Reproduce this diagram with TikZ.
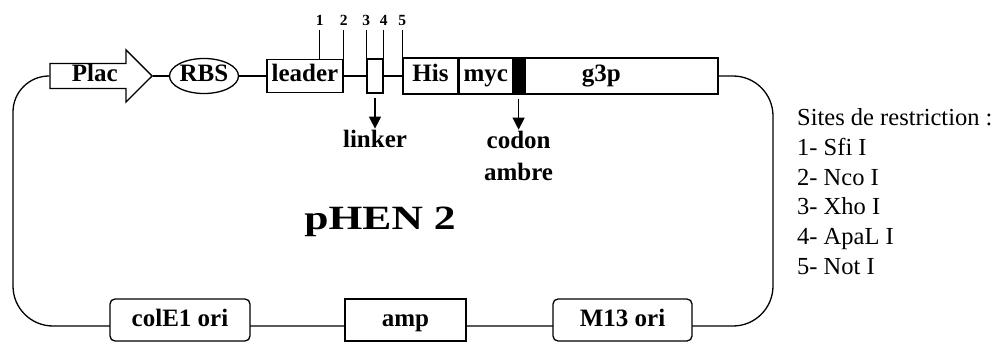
\documentclass[tikz,border=0pt]{standalone}
\usepackage{fontspec}
\setmainfont{Liberation Serif}
\usepackage{graphicx}
\usetikzlibrary{arrows.meta,positioning,shapes.geometric,shapes.arrows,backgrounds}
\newcommand{\genefont}{\fontsize{25}{32}\selectfont\bfseries}
\newcommand{\legendfont}{\fontsize{24.5}{29.6}\selectfont}
\tikzset{
  backbone/.style={draw=black,line width=1.3pt},
  gene/.style={draw=black,line width=1.3pt,fill=white,inner sep=0pt,font=\genefont,
               text height=17pt,text depth=5pt},
  ori/.style={gene,rounded corners=5pt},
  promoter/.style={gene,single arrow,single arrow head extend=12.5pt,
                   minimum width=52pt,minimum height=102pt,anchor=tip},
  pointer/.style={-{Triangle[length=12pt,width=12pt]},line width=1.3pt,shorten <=4pt},
  sitetick/.style={line width=1.3pt},
  sitenum/.style={above,inner sep=4pt,font=\fontsize{15.5}{17}\selectfont\bfseries},
  genelabel/.style={below,inner sep=1pt,align=center,font=\genefont},
  legend/.style={anchor=base west,inner sep=0pt,font=\legendfont},
}

\begin{document}
\begin{tikzpicture}[x=1pt,y=-1pt]
  \useasboundingbox (0,0) rectangle (1002,342);
  % upper row: promoter, RBS, leader, linker
  \node[promoter] (plac) at (153,76) {Plac};
  \node[gene,ellipse,minimum width=69pt,minimum height=35pt] (rbs) at (204,76) {RBS};
  \node[gene,minimum width=76pt,minimum height=33pt] (leader) at (305,76) {leader};
  \node[gene,minimum width=16pt,minimum height=34pt] (linker) at (375,76) {};
  % His - myc - amber - g3p
  \node[gene,minimum width=55pt,minimum height=36pt] (his) at (430.5,76) {His};
  \node[gene,minimum width=53pt,minimum height=36pt,right=0pt of his] (myc) {myc};
  \node[gene,fill=black,minimum width=10pt,minimum height=36pt,right=0pt of myc] (amber) {};
  \node[gene,minimum width=193pt,minimum height=36pt,right=0pt of amber] (g3p)
    {g3p\hspace*{40pt}};
  % lower row
  \node[ori,minimum width=140pt,minimum height=42pt] (cole1) at (180,320) {colE1 ori};
  \node[gene,minimum width=121pt,minimum height=42pt] (amp) at (405.5,320) {amp};
  \node[ori,minimum width=139pt,minimum height=42pt] (m13) at (622.5,320) {M13 ori};
  \node[font=\fontsize{34}{40}\selectfont\bfseries] (name) at (380,222)
    {\scalebox{1.28}[1]{pHEN 2}};
  % backbone
  \begin{scope}[on background layer]
    \draw[backbone] (plac.tip) -- (rbs) -- (leader) -- (linker) -- (his);
    \draw[backbone] (plac.west) [rounded corners=36pt] -- (13,76)
      [rounded corners=40pt] -- (13,326) -- (773,326) -- (773,76) -- (g3p.east);
  \end{scope}
  % restriction sites
  \coordinate (sfi) at ([xshift=-24pt]leader.north east);
  \coordinate (numline) at (0,30);
  \foreach \k/\anc in {1/sfi,2/leader.north east,3/linker.north west,
      4/linker.north east,5/his.north west}
    \draw[sitetick] (\anc) -- (\anc |- numline) node[sitenum] (num\k) {\k};
  % pointers
  \draw[pointer] (linker.south) -- ++(0,35) node[genelabel] (linkertxt) {linker};
  \draw[pointer] (amber.south) -- ++(0,35) node[genelabel] (ambertxt) {codon\\ambre};
  % legend
  \node[legend] (sites) at (797,126) {Sites de restriction :};
  \foreach \i/\enz in {1/Sfi I,2/Nco I,3/Xho I,4/ApaL I,5/Not I}
    \node[legend] (site\i) at (797,126+29.6*\i) {\i- \enz};
\end{tikzpicture}
\end{document}
